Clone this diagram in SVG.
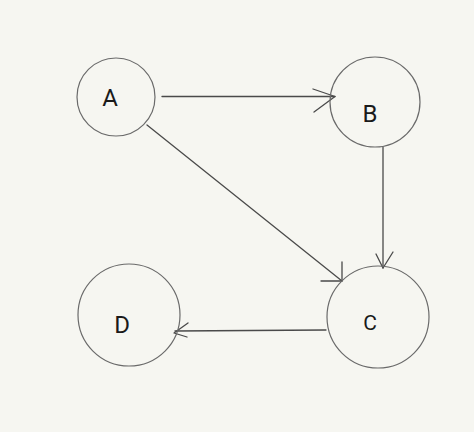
<svg xmlns="http://www.w3.org/2000/svg" width="474" height="432" viewBox="0 0 474 432">
  <style>
    .node circle { fill: none; stroke: #6a6a6a; stroke-width: 1.2; }
    .node text { font-family: Roboto, "Liberation Sans", sans-serif; font-size: 24px; fill: #1a1a1a; text-anchor: middle; }
    .edge { fill: none; stroke: #4a4a4a; stroke-width: 1.3; stroke-linecap: round; stroke-linejoin: round; }
  </style>
  <rect width="474" height="432" fill="#f6f6f1"/>
  <g id="connectors">
    <g id="edge-A-B">
      <path class="edge" d="M162 96.5 L335 96.5"/>
      <path class="edge" d="M313 89 L335 96.5 L314 112"/>
    </g>
    <g id="edge-A-C">
      <path class="edge" d="M147 125 L342 281"/>
      <path class="edge" d="M342 262 L342 281 L321 281"/>
    </g>
    <g id="edge-B-C">
      <path class="edge" d="M383 147 L383 268"/>
      <path class="edge" d="M376 254 L383 268 L393 252"/>
    </g>
    <g id="edge-C-D">
      <path class="edge" d="M326 330 L175 331"/>
      <path class="edge" d="M188 323 L174 333 L187 337"/>
    </g>
  </g>
  <g id="node-A" class="node">
    <circle cx="116" cy="97" r="39"/>
    <text x="110" y="106">A</text>
  </g>
  <g id="node-B" class="node">
    <circle cx="375" cy="102" r="45"/>
    <text x="370" y="122">B</text>
  </g>
  <g id="node-C" class="node">
    <circle cx="378" cy="317" r="51"/>
    <text x="370" y="330" style="font-size:21px">C</text>
  </g>
  <g id="node-D" class="node">
    <circle cx="129" cy="315" r="51"/>
    <text x="122" y="333">D</text>
  </g>
</svg>
